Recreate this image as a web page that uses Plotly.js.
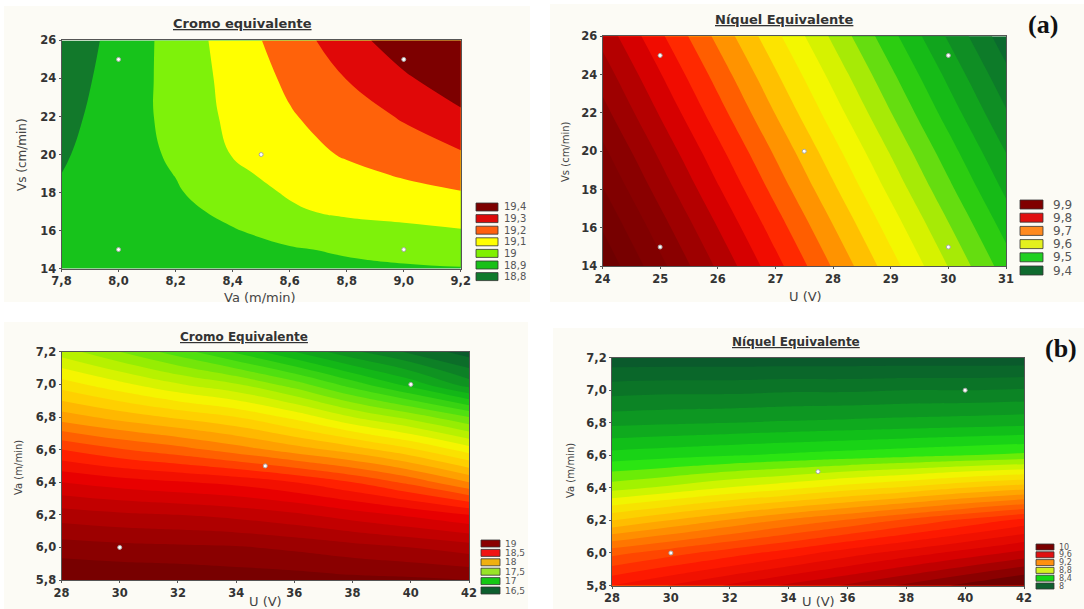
<!DOCTYPE html>
<html><head><meta charset="utf-8">
<script src="https://cdn.plot.ly/plotly-3.0.1.min.js"></script>
<style>html,body{margin:0;padding:0;background:#fff}#chart{width:1084px;height:609px}</style>
</head><body><div id="chart"></div><script>
// ---------- DATA ----------
// Panel 1: Cromo equivalente vs Va (m/min) and Vs (cm/min)
const cr1Va = [7.8, 8.0, 8.2, 8.4, 8.6, 8.8, 9.0, 9.2];
const cr1Vs = [14, 15, 16, 17, 18, 19, 20, 22, 24, 26];
const cr1Z = [
  [18.83, 18.85, 18.86, 18.87, 18.875, 18.883, 18.89, 18.895],
  [18.825, 18.85, 18.865, 18.878, 18.893, 18.91, 18.927, 18.945],
  [18.82, 18.85, 18.87, 18.895, 18.93, 18.955, 18.975, 18.995],
  [18.815, 18.85, 18.878, 18.92, 18.985, 19.02, 19.035, 19.048],
  [18.81, 18.85, 18.89, 18.957, 19.01, 19.04, 19.07, 19.095],
  [18.80, 18.85, 18.903, 18.98, 19.035, 19.075, 19.112, 19.145],
  [18.79, 18.85, 18.916, 19.004, 19.059, 19.11, 19.15, 19.19],
  [18.77, 18.848, 18.932, 19.022, 19.091, 19.151, 19.21, 19.28],
  [18.75, 18.842, 18.936, 19.032, 19.119, 19.202, 19.284, 19.366],
  [18.73, 18.834, 18.939, 19.045, 19.152, 19.255, 19.36, 19.46]
];
const pts1Va = [8.0, 9.0, 8.5, 8.0, 9.0];
const pts1Vs = [25, 25, 20, 15, 15];
const leg1Labels = ['19,4', '19,3', '19,2', '19,1', '19', '18,9', '18,8'];

// Panel 2: Níquel Equivalente vs U (V) and Vs (cm/min)
const ni1U = [24, 25, 26, 27, 28, 29, 30, 31];
const ni1Vs = [14, 16, 18, 20, 22, 24, 26];
const ni1Z = [
  [10.053, 9.979, 9.905, 9.831, 9.757, 9.683, 9.609, 9.535],
  [10.028, 9.954, 9.880, 9.806, 9.732, 9.658, 9.584, 9.510],
  [10.002, 9.928, 9.854, 9.780, 9.706, 9.632, 9.558, 9.484],
  [9.977, 9.903, 9.829, 9.755, 9.681, 9.607, 9.533, 9.459],
  [9.951, 9.877, 9.803, 9.729, 9.655, 9.581, 9.507, 9.433],
  [9.926, 9.852, 9.778, 9.704, 9.630, 9.556, 9.482, 9.408],
  [9.900, 9.826, 9.752, 9.678, 9.604, 9.530, 9.456, 9.382]
];
const pts2U = [25, 30, 27.5, 25, 30];
const pts2Vs = [25, 25, 20, 15, 15];
const leg2Labels = ['9,9', '9,8', '9,7', '9,6', '9,5', '9,4'];

// Panel 3: Cromo Equivalente vs U (V) and Va (m/min)
const cr2U = [28, 30, 32, 34, 36, 38, 40, 42];
const cr2Va = [5.8, 6.0, 6.2, 6.4, 6.6, 6.8, 7.0, 7.2];
const cr2Z = [
  [19.30, 19.29, 19.28, 19.26, 19.25, 19.23, 19.22, 19.20],
  [19.15, 19.13, 19.12, 19.11, 19.08, 19.04, 19.00, 18.95],
  [18.95, 18.92, 18.90, 18.87, 18.82, 18.75, 18.68, 18.60],
  [18.70, 18.65, 18.61, 18.57, 18.50, 18.40, 18.27, 18.10],
  [18.40, 18.31, 18.24, 18.15, 18.05, 17.95, 17.82, 17.65],
  [18.05, 17.96, 17.88, 17.80, 17.67, 17.50, 17.36, 17.20],
  [17.75, 17.63, 17.51, 17.41, 17.25, 17.05, 16.86, 16.65],
  [17.45, 17.30, 17.15, 16.98, 16.80, 16.62, 16.48, 16.35]
];
const pts3U = [30, 35, 40];
const pts3Va = [6.0, 6.5, 7.0];
const leg3Labels = ['19', '18,5', '18', '17,5', '17', '16,5'];

// Panel 4: Níquel Equivalente vs U (V) and Va (m/min)
const ni2U = [28, 30, 32, 34, 36, 38, 40, 42];
const ni2Va = [5.8, 6.0, 6.2, 6.4, 6.6, 6.8, 7.0, 7.2];
const ni2Z = [
  [9.55, 9.63, 9.71, 9.79, 9.86, 9.94, 10.02, 10.10],
  [9.30, 9.37, 9.44, 9.51, 9.59, 9.66, 9.73, 9.80],
  [8.95, 9.03, 9.11, 9.19, 9.26, 9.34, 9.42, 9.50],
  [8.62, 8.67, 8.73, 8.78, 8.84, 8.89, 8.95, 9.00],
  [8.38, 8.40, 8.42, 8.44, 8.46, 8.48, 8.50, 8.52],
  [8.18, 8.19, 8.20, 8.21, 8.22, 8.23, 8.24, 8.25],
  [8.02, 8.03, 8.03, 8.04, 8.04, 8.05, 8.05, 8.06],
  [7.85, 7.85, 7.85, 7.85, 7.85, 7.85, 7.85, 7.85]
];
const pts4U = [30, 35, 40];
const pts4Va = [6.0, 6.5, 7.0];
const leg4Labels = ['10', '9,6', '9,2', '8,8', '8,4', '8'];

// ---------- STYLES ----------
const band1Colors = ['#12792b', '#17c31b', '#7ef20a', '#ffff00', '#ff620a', '#e00808', '#7d0000'];
const leg1Colors = ['#7d0000', '#dc0a0a', '#ff5f0f', '#ffff00', '#80f000', '#18c018', '#0f7a2b'];
const leg2Colors = ['#800000', '#e01010', '#ff8a1e', '#e4f01e', '#20d020', '#0f6a2e'];
const leg3Colors = ['#8a0000', '#f01414', '#f0b010', '#98e428', '#14c814', '#0d5e2e'];
const leg4Colors = ['#7a0000', '#e01010', '#ff9010', '#d4f020', '#14d814', '#0f6030'];

const stops2 = [[9.38,'#0b6a2e'],[9.44,'#0f8a25'],[9.50,'#12b818'],[9.54,'#30d010'],[9.57,'#70e010'],[9.61,'#c8f000'],[9.66,'#f8f800'],[9.70,'#ffd800'],[9.725,'#ffb000'],[9.75,'#ff8c00'],[9.78,'#ff5500'],[9.81,'#ff2000'],[9.85,'#e80000'],[9.89,'#b80000'],[9.95,'#8c0000'],[10.05,'#6e0000']];
const stops3 = [[16.3,'#0b5a2c'],[16.6,'#0e8a24'],[16.9,'#14c014'],[17.15,'#50e010'],[17.4,'#a8f000'],[17.65,'#f5f500'],[17.85,'#ffd000'],[18.05,'#ffa000'],[18.25,'#ff6000'],[18.45,'#ff2000'],[18.65,'#e80000'],[18.9,'#b80000'],[19.3,'#780000']];
const stops4 = [[7.85,'#0a5a2c'],[8.05,'#0b7a26'],[8.2,'#0ea020'],[8.33,'#12c418'],[8.45,'#20e414'],[8.58,'#90f000'],[8.75,'#f0f800'],[8.95,'#ffc800'],[9.12,'#ff9400'],[9.3,'#ff5a00'],[9.5,'#ff1a00'],[9.75,'#d60000'],[10.1,'#700000']];

const W = 1084, H = 609;
function dom(x0, x1, y0, y1) { return {x: [x0 / W, x1 / W], y: [1 - y1 / H, 1 - y0 / H]}; }
const P = [dom(61.5, 460.8, 40.4, 268.6), dom(602.5, 1006, 36.3, 266.2), dom(61.5, 469, 351.8, 580), dom(612, 1024, 357.7, 585.5)];

function normScale(stops, start, size, n) {
  const lo = start - size / 2, hi = start + (n - 1) * size + size / 2;
  const s = stops.map(([v, c]) => [Math.min(1, Math.max(0, (v - lo) / (hi - lo))), c]);
  s[0][0] = 0; s[s.length - 1][0] = 1;
  return s;
}
function contour(x, y, z, ax, scale, start, size, end) {
  return {type: 'contour', x: x, y: y, z: z, xaxis: 'x' + ax, yaxis: 'y' + ax,
    colorscale: scale, autocontour: false,
    contours: {start: start, end: end, size: size, coloring: 'fill', showlines: false},
    line: {width: 0, smoothing: 1.3}, showscale: false, hoverinfo: 'skip'};
}
function pts(x, y, ax) {
  return {type: 'scatter', mode: 'markers', x: x, y: y, xaxis: 'x' + ax, yaxis: 'y' + ax,
    marker: {size: 4, color: '#ffffff', line: {color: '#a8a8a8', width: 1}}, hoverinfo: 'skip', showlegend: false};
}
const scale1 = band1Colors.map((c, i) => [i / 6, c]);
const data = [
  contour(cr1Va, cr1Vs, cr1Z, '', scale1, 18.8, 0.1, 19.3),
  contour(ni1U, ni1Vs, ni1Z, '2', normScale(stops2, 9.40, 0.03, 22), 9.40, 0.03, 10.03),
  contour(cr2U, cr2Va, cr2Z, '3', normScale(stops3, 16.4, 0.1, 29), 16.4, 0.1, 19.2),
  contour(ni2U, ni2Va, ni2Z, '4', normScale(stops4, 7.9, 0.075, 29), 7.9, 0.075, 10.0),
  pts(pts1Va, pts1Vs, ''), pts(pts2U, pts2Vs, '2'), pts(pts3U, pts3Va, '3'), pts(pts4U, pts4Va, '4')
];

const tickFont = {family: 'DejaVu Sans', size: 11.5, color: '#333', weight: 'bold'};
function axis(d, range, dtick, fmt, anchor) {
  return {domain: d, range: range, dtick: dtick, tick0: range[0], tickformat: fmt, anchor: anchor,
    showgrid: false, zeroline: false, showline: true, mirror: true, linecolor: '#555', linewidth: 1,
    ticks: 'outside', ticklen: 2, tickcolor: '#555', tickfont: tickFont, fixedrange: true};
}
const layout = {
  width: W, height: H, margin: {l: 0, r: 0, t: 0, b: 0},
  paper_bgcolor: '#ffffff', plot_bgcolor: 'rgba(0,0,0,0)', showlegend: false, separators: ',.',
  xaxis: axis(P[0].x, [7.8, 9.2], 0.2, '.1f', 'y'),
  yaxis: axis(P[0].y, [14, 26], 2, 'd', 'x'),
  xaxis2: axis(P[1].x, [24, 31], 1, 'd', 'y2'),
  yaxis2: axis(P[1].y, [14, 26], 2, 'd', 'x2'),
  xaxis3: axis(P[2].x, [28, 42], 2, 'd', 'y3'),
  yaxis3: axis(P[2].y, [5.8, 7.2], 0.2, '.1f', 'x3'),
  xaxis4: axis(P[3].x, [28, 42], 2, 'd', 'y4'),
  yaxis4: axis(P[3].y, [5.8, 7.2], 0.2, '.1f', 'x4'),
  shapes: [], annotations: []
};

// panel backgrounds
[[4, 530, 6, 302], [550, 1084, 4, 302], [4, 528, 322, 609], [553, 1084, 328, 609]].forEach(r => {
  layout.shapes.push({type: 'rect', xref: 'paper', yref: 'paper', layer: 'below',
    x0: r[0] / W, x1: r[1] / W, y0: 1 - r[3] / H, y1: 1 - r[2] / H, fillcolor: '#fcfbf5', line: {width: 0}});
});

function txt(text, x, y, font, extra) {
  layout.annotations.push(Object.assign({text: text, x: x / W, y: 1 - y / H, xref: 'paper', yref: 'paper',
    showarrow: false, xanchor: 'center', yanchor: 'middle', font: font}, extra || {}));
}
const titleFont = s => ({family: 'DejaVu Sans', size: s, color: '#333'});
txt('<u><b>Cromo equivalente</b></u>', 242, 24, titleFont(13));
txt('<u><b>Níquel Equivalente</b></u>', 784, 20, titleFont(13));
txt('<u><b>Cromo Equivalente</b></u>', 244, 337, titleFont(12));
txt('<u><b>Níquel Equivalente</b></u>', 796, 342, titleFont(12));
txt('<b>(a)</b>', 1043, 25, {family: 'Liberation Serif', size: 26, color: '#111'});
txt('<b>(b)</b>', 1061, 348, {family: 'Liberation Serif', size: 26, color: '#111'});

const axFont = s => ({family: 'DejaVu Sans', size: s, color: '#444'});
txt('Va (m/min)', 260, 297, axFont(13));
txt('U (V)', 805, 296, axFont(13));
txt('U (V)', 265, 601, axFont(13));
txt('U (V)', 818, 601, axFont(13));
txt('Vs (cm/min)', 22, 155, axFont(12), {textangle: -90});
txt('Vs (cm/min)', 565, 152, axFont(10), {textangle: -90});
txt('Va (m/min)', 19, 468, axFont(10), {textangle: -90});
txt('Va (m/min)', 570, 471, axFont(10), {textangle: -90});

function legend(labels, colors, x0, x1, top, pitch, h, lx, fs) {
  labels.forEach((lab, i) => {
    const y0 = top + i * pitch;
    layout.shapes.push({type: 'rect', xref: 'paper', yref: 'paper', x0: x0 / W, x1: x1 / W,
      y0: 1 - (y0 + h) / H, y1: 1 - y0 / H, fillcolor: colors[i], line: {color: '#333', width: 0.8}});
    txt(lab, lx, y0 + h / 2, {family: 'DejaVu Sans', size: fs, color: '#555'}, {xanchor: 'left'});
  });
}
legend(leg1Labels, leg1Colors, 476, 498, 203, 11.6, 8, 502, 10);
legend(leg2Labels, leg2Colors, 1020, 1043, 200, 13.2, 9, 1051, 12);
legend(leg3Labels, leg3Colors, 481, 500, 540, 9.4, 7, 503, 9);
legend(leg4Labels, leg4Colors, 1036, 1054, 544, 7.8, 6, 1057, 8);

Plotly.newPlot('chart', data, layout, {staticPlot: true, displayModeBar: false});
</script></body></html>
